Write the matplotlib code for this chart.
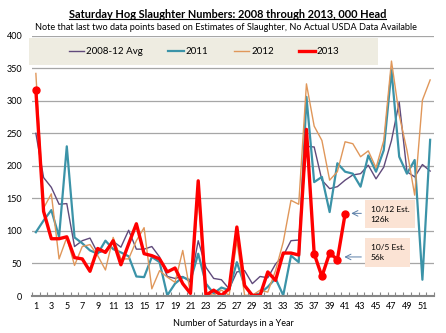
import matplotlib
matplotlib.use('Agg')
import matplotlib.pyplot as plt
from matplotlib.patches import Rectangle
from matplotlib.lines import Line2D
import numpy as np

plt.rcParams['font.family'] = ['Lato', 'DejaVu Sans']

# weekly Saturday slaughter, 000 head
weeks = np.arange(1, 53)
avg_0812 = [250, 182, 167, 141, 142, 76, 85, 89, 66, 70, 84, 75, 101, 72, 72, 76,
            60, 30, 27, 30, 21, 85, 44, 27, 25, 11, 37, 39, 19, 30, 28, 49, 62, 85,
            86, 230, 229, 178, 165, 168, 178, 186, 188, 201, 180, 198, 239, 298,
            191, 183, 202, 192]
y2011 = [98, 116, 132, 91, 230, 90, 81, 70, 65, 85, 72, 67, 61, 30, 29, 60, 52, 1,
         19, 29, 24, 65, 19, 4, 13, 9, 52, 16, 1, 4, 14, 27, 1, 62, 52, 306, 175,
         183, 129, 204, 191, 188, 168, 216, 191, 224, 347, 214, 188, 209, 25, 240]
y2012 = [342, 135, 157, 57, 90, 47, 76, 79, 62, 40, 90, 57, 57, 85, 105, 11, 39,
         29, 21, 70, 4, 152, 4, 1, 9, 1, 85, 1, 1, 9, 6, 39, 83, 147, 141, 326, 261,
         239, 178, 191, 237, 234, 214, 223, 197, 239, 361, 278, 224, 155, 301, 332]
y2013 = [316, 130, 88, 88, 91, 59, 57, 38, 73, 67, 85, 48, 80, 111, 65, 62, 57,
         37, 43, 19, 4, 177, 1, 9, 1, 11, 106, 16, 1, 1, 37, 24, 66, 66, 63, 256,
         65, 30, 66, 56, 126]
weeks2013 = weeks[:len(y2013)]

colors = {'avg': '#604A7B', '2011': '#3B93A8', '2012': '#E0975A', '2013': '#FF0000'}
widths = {'avg': 1.0, '2011': 1.6, '2012': 1.0, '2013': 2.4}

fig = plt.figure(figsize=(4.46, 3.33), dpi=100)
ax = fig.add_axes([32/446, 1-296/333, 402/446, (296-35.7)/333])

ax.plot(weeks, avg_0812, color=colors['avg'], lw=widths['avg'], zorder=3)
ax.plot(weeks, y2011, color=colors['2011'], lw=widths['2011'], zorder=3)
ax.plot(weeks, y2012, color=colors['2012'], lw=widths['2012'], zorder=3)
ax.plot(weeks2013, y2013, color=colors['2013'], lw=widths['2013'], zorder=4,
        marker='o', markersize=5, markevery=[0, 36, 37, 38, 39, 40])

ax.set_xlim(0.5, 52.5)
ax.set_ylim(0, 400)
ax.set_yticks(np.arange(0, 401, 50))
ax.grid(axis='y', color='#A6A6A6', lw=0.9)
ax.set_axisbelow(True)
for s in ['top', 'right', 'left']:
    ax.spines[s].set_visible(False)
ax.spines['bottom'].set_color('#868686')
ax.spines['bottom'].set_linewidth(1.5)
ax.spines['bottom'].set_zorder(5)

ax.set_xticks(np.arange(1, 53, 2))
ax.set_xticks(np.arange(0.5, 53, 1), minor=True)
ax.tick_params(axis='x', which='major', length=0, labelsize=6.5, pad=4)
ax.tick_params(axis='x', which='minor', direction='in', length=3, color='#868686', width=0.8)
ax.tick_params(axis='y', length=0, labelsize=6.5, pad=7)
ax.set_xlabel('Number of Saturdays in a Year', fontsize=6.5, labelpad=6)

# legend band
ax.add_patch(Rectangle((29/446, 1-65/333), 349/446, 27/333,
                       transform=fig.transFigure, facecolor='#EEECE1',
                       edgecolor='none', zorder=4.5, clip_on=False))
handles = [Line2D([], [], color=colors[k], lw=widths[k]) for k in ['avg', '2011', '2012', '2013']]
leg = ax.legend(handles, ['2008-12 Avg', '2011', '2012', '2013'], loc='center',
                bbox_to_anchor=(204/446, 1-51.5/333), bbox_transform=fig.transFigure,
                ncol=4, frameon=False, fontsize=7, handlelength=1.6,
                handletextpad=0.2, columnspacing=2.6)
leg.set_zorder(6)

# estimate call-outs
box = dict(boxstyle='square,pad=0.7', facecolor='#FBE3D4', edgecolor='none')
ax.text(44.3, 126, '10/12 Est.\n126k', fontsize=6, ha='left', va='center', bbox=box,
        linespacing=1.5, zorder=6)
ax.text(44.3, 67, '10/5 Est.\n56k', fontsize=6, ha='left', va='center', bbox=box,
        linespacing=1.5, zorder=6)
arrow = dict(arrowstyle='->,head_length=0.4,head_width=0.2', color='#5B7FA8', lw=0.7,
             shrinkA=0, shrinkB=0)
ax.annotate('', xy=(41.8, 127), xytext=(43.1, 127), arrowprops=arrow, zorder=6)
ax.annotate('', xy=(40.9, 60), xytext=(43.1, 60), arrowprops=arrow, zorder=6)

title = fig.text(227.5/446, 1-14/333, 'Saturday Hog Slaughter Numbers: 2008 through 2013, 000 Head',
                 ha='center', va='center', fontsize=7.9, fontweight='bold')
fig.text(225.5/446, 1-27/333,
         'Note that last two data points based on Estimates of Slaughter, No Actual USDA Data Available',
         ha='center', va='center', fontsize=6.6)

# underline the title
fig.canvas.draw()
bb = title.get_window_extent().transformed(fig.transFigure.inverted())
fig.add_artist(Line2D([bb.x0, bb.x1], [bb.y0 + 0.002, bb.y0 + 0.002], color='black',
                      lw=0.8, transform=fig.transFigure))

fig.savefig('out.png', dpi=100)
